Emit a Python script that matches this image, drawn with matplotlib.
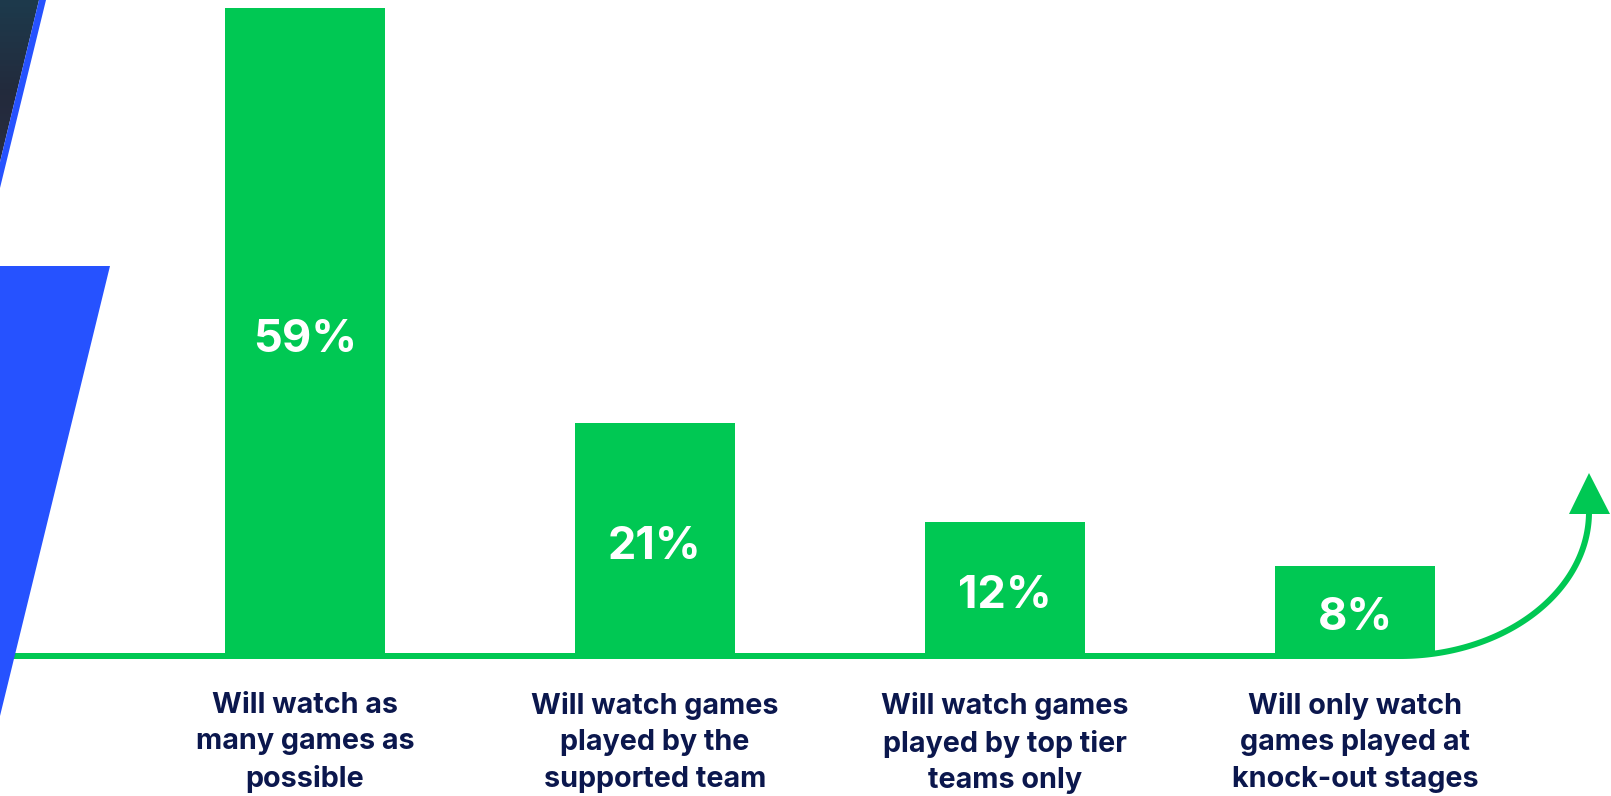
import numpy as np
import matplotlib.pyplot as plt
from matplotlib.patches import Polygon

categories = [
    "Will watch as\nmany games as\npossible",
    "Will watch games\nplayed by the\nsupported team",
    "Will watch games\nplayed by top tier\nteams only",
    "Will only watch\ngames played at\nknock-out stages",
]
shares = [59, 21, 12, 8]
value_labels = ["59%", "21%", "12%", "8%"]

GREEN = "#00C853"
BLUE = "#2652FF"
NAVY = "#0B174D"

W, H = 1611, 796
fig = plt.figure(figsize=(W / 100, H / 100), dpi=100)
fig.patch.set_facecolor("white")

# background decoration in pixel space
deco = fig.add_axes([0, 0, 1, 1], zorder=0)
deco.set_xlim(0, W)
deco.set_ylim(H, 0)
deco.axis("off")

# dark photo corner with a blue rim
grad = np.linspace(0, 1, 200).reshape(-1, 1)
img = deco.imshow(grad, extent=(0, 46, 190, 0), aspect="auto",
                  cmap=plt.matplotlib.colors.LinearSegmentedColormap.from_list(
                      "corner", ["#1d3a4c", "#232a3c", "#2a2f45"]), zorder=1)
dark = Polygon([(0, 0), (39, 0), (0, 162)], closed=True, facecolor="none", edgecolor="none")
deco.add_patch(dark)
img.set_clip_path(dark)
deco.add_patch(Polygon([(39, 0), (46, 0), (0, 188), (0, 162)], closed=True,
                       facecolor=BLUE, edgecolor="none", zorder=2))

# baseline running into an upward arrow
base_y = 656
cx, cy, rx, ry = 1400, 512, 189, 144
th = np.linspace(0, np.pi / 2, 100)
arc_x = cx + rx * np.sin(th)
arc_y = cy + ry * np.cos(th)
line_x = np.concatenate([[0], arc_x])
line_y = np.concatenate([[base_y], arc_y])
deco.plot(line_x, line_y, color=GREEN, lw=6 * 0.72, solid_capstyle="butt", zorder=2)
deco.add_patch(Polygon([(1569, 514), (1610, 514), (1589, 473)], closed=True,
                       facecolor=GREEN, edgecolor="none", zorder=3))

# big blue wedge on the left
deco.add_patch(Polygon([(0, 266), (110, 266), (0, 716)], closed=True,
                       facecolor=BLUE, edgecolor="none", zorder=4))

# bars
px_per_pct = 645 / 59
ax = fig.add_axes([0, 143 / H, 1, 653 / H], zorder=1)
ax.patch.set_alpha(0)
ax.axis("off")
x = np.arange(len(shares))
ax.bar(x, shares, width=160 / 350, color=GREEN, edgecolor="none")
ax.set_xlim(-305 / 350, (W - 305) / 350)
ax.set_ylim(0, 653 / px_per_pct)

for xi, v, lab in zip(x, shares, value_labels):
    ax.annotate(lab, xy=(xi, v / 2), xytext=(0, -21 * 0.72), textcoords="offset points",
                ha="center", va="baseline", color="white", fontsize=32.5,
                fontweight="bold", family=["Inter", "DejaVu Sans"])

for xi, cat in zip(x, categories):
    ax.annotate(cat, xy=(xi, 0), xytext=(0, -39 * 0.72), textcoords="offset points",
                ha="center", va="top", color=NAVY, fontsize=20.7, linespacing=1.45,
                fontweight="bold", family=["Inter", "DejaVu Sans"],
                annotation_clip=False)

fig.savefig("out.png", dpi=100)
